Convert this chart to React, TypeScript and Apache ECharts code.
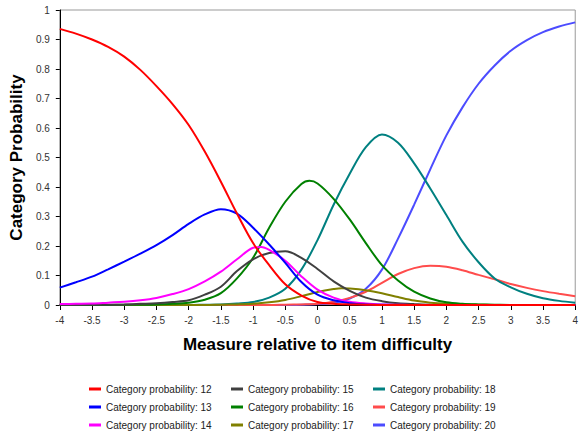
import React, { useEffect, useRef } from "react";
import * as echarts from "echarts";

// x positions (measure relative to item difficulty)
const measures = [
  -4, -3.75, -3.5, -3.25, -3, -2.75, -2.5, -2.25, -2, -1.75, -1.5, -1.25, -1, -0.75, -0.5, -0.25,
  0, 0.25, 0.5, 0.75, 1, 1.25, 1.5, 1.75, 2, 2.25, 2.5, 2.75, 3, 3.25, 3.5, 3.75, 4,
];

const cat12 = [0.936, 0.92, 0.9, 0.875, 0.842, 0.797, 0.742, 0.681, 0.61, 0.52, 0.418, 0.31, 0.21, 0.135, 0.07, 0.032, 0.01, 0.004, 0.002, 0.001, 0, 0, 0, 0, 0, 0, 0, 0, 0, 0, 0, 0, 0];
const cat13 = [0.059, 0.077, 0.096, 0.121, 0.147, 0.174, 0.203, 0.237, 0.275, 0.307, 0.325, 0.31, 0.262, 0.205, 0.143, 0.078, 0.035, 0.016, 0.006, 0.002, 0.001, 0, 0, 0, 0, 0, 0, 0, 0, 0, 0, 0, 0];
const cat14 = [0.003, 0.004, 0.005, 0.008, 0.011, 0.016, 0.024, 0.037, 0.054, 0.08, 0.113, 0.155, 0.194, 0.187, 0.15, 0.097, 0.052, 0.025, 0.011, 0.005, 0.002, 0.001, 0, 0, 0, 0, 0, 0, 0, 0, 0, 0, 0];
const cat15 = [0, 0, 0.001, 0.001, 0.002, 0.004, 0.006, 0.01, 0.016, 0.035, 0.062, 0.115, 0.155, 0.176, 0.182, 0.16, 0.122, 0.08, 0.048, 0.025, 0.013, 0.006, 0.003, 0.001, 0, 0, 0, 0, 0, 0, 0, 0, 0];
const cat16 = [0, 0, 0, 0, 0.001, 0.001, 0.002, 0.004, 0.008, 0.018, 0.04, 0.09, 0.16, 0.262, 0.35, 0.41, 0.412, 0.36, 0.29, 0.21, 0.135, 0.083, 0.045, 0.022, 0.009, 0.004, 0.002, 0.001, 0, 0, 0, 0, 0];
const cat17 = [0, 0, 0, 0, 0, 0, 0, 0, 0, 0, 0.001, 0.002, 0.004, 0.009, 0.017, 0.03, 0.044, 0.054, 0.056, 0.05, 0.04, 0.027, 0.015, 0.008, 0.004, 0.002, 0.001, 0, 0, 0, 0, 0, 0];
const cat18 = [0, 0, 0, 0, 0, 0, 0, 0, 0, 0.001, 0.002, 0.005, 0.01, 0.025, 0.055, 0.12, 0.22, 0.34, 0.445, 0.535, 0.578, 0.55, 0.48, 0.395, 0.305, 0.215, 0.145, 0.09, 0.06, 0.038, 0.023, 0.014, 0.008];
const cat19 = [0, 0, 0, 0, 0, 0, 0, 0, 0, 0, 0, 0, 0, 0, 0.001, 0.002, 0.004, 0.011, 0.024, 0.045, 0.075, 0.105, 0.125, 0.133, 0.13, 0.118, 0.102, 0.087, 0.071, 0.058, 0.047, 0.038, 0.03];
const cat20 = [0, 0, 0, 0, 0, 0, 0, 0, 0, 0, 0, 0, 0, 0, 0, 0.001, 0.003, 0.008, 0.022, 0.055, 0.12, 0.225, 0.34, 0.46, 0.575, 0.67, 0.75, 0.812, 0.862, 0.898, 0.925, 0.944, 0.958];

// peaks that fall between grid measures: [measure, probability]
const peak14 = [-0.875, 0.197];
const peak16 = [-0.125, 0.421];
const peak17 = [0.375, 0.057];

const seriesNames = [
  "Category probability: 12",
  "Category probability: 13",
  "Category probability: 14",
  "Category probability: 15",
  "Category probability: 16",
  "Category probability: 17",
  "Category probability: 18",
  "Category probability: 19",
  "Category probability: 20",
];
const seriesValues = [cat12, cat13, cat14, cat15, cat16, cat17, cat18, cat19, cat20];
const seriesPeaks = [null, null, peak14, null, peak16, peak17, null, null, null];
const seriesColors = ["#ff0000", "#0000ff", "#ff00ff", "#404040", "#008000", "#808000", "#008080", "#ff4c4c", "#4c4cff"];

const FONT = "'Liberation Sans', Arial, sans-serif";

export default function App() {
  const ref = useRef<HTMLDivElement>(null);
  useEffect(() => {
    if (!ref.current) return;
    const chart = echarts.init(ref.current, undefined, { renderer: "svg" });
    const series = seriesNames
      .map((name, i) => {
        const pts: number[][] = measures.map((x, j) => [x, seriesValues[i][j]]);
        const pk = seriesPeaks[i];
        if (pk) pts.push([pk[0], pk[1]]);
        pts.sort((a, b) => a[0] - b[0]);
        return {
          name,
          type: "line",
          smooth: 0.33,
          showSymbol: false,
          symbol: "none",
          data: pts,
          lineStyle: { color: seriesColors[i], width: 2 },
          itemStyle: { color: seriesColors[i] },
        };
      })
      .reverse();
    const legendBase = {
      orient: "vertical",
      icon: "rect",
      itemWidth: 12,
      itemHeight: 3,
      itemGap: 6,
      height: 60,
      selectedMode: false,
      padding: 0,
      textStyle: { fontSize: 10, fontFamily: FONT, color: "#222", lineHeight: 12 },
    };
    chart.setOption({
      animation: false,
      backgroundColor: "#ffffff",
      grid: {
        left: 58,
        right: 0,
        top: 10,
        bottom: 130,
        show: true,
        borderColor: "#999999",
        borderWidth: 1,
      },
      legend: [
        { ...legendBase, left: 89, top: 383, data: seriesNames.slice(0, 3) },
        { ...legendBase, left: 231, top: 383, data: seriesNames.slice(3, 6) },
        { ...legendBase, left: 373, top: 383, data: seriesNames.slice(6, 9) },
      ],
      xAxis: {
        type: "value",
        min: -4,
        max: 4,
        interval: 0.5,
        name: "Measure relative to item difficulty",
        nameLocation: "middle",
        nameGap: 31,
        nameTextStyle: { fontSize: 17, fontWeight: "bold", fontFamily: FONT, color: "#000" },
        axisLine: { onZero: false, lineStyle: { color: "#000", width: 1 } },
        axisTick: { show: true, length: 5, lineStyle: { color: "#000" } },
        axisLabel: { fontSize: 10, color: "#333", fontFamily: FONT, margin: 10 },
        splitLine: { show: false },
      },
      yAxis: {
        type: "value",
        min: 0,
        max: 1,
        interval: 0.1,
        name: "Category Probability",
        nameLocation: "middle",
        nameGap: 30,
        nameTextStyle: { fontSize: 17, fontWeight: "bold", fontFamily: FONT, color: "#000" },
        axisLine: { show: true, onZero: false, lineStyle: { color: "#000", width: 1 } },
        axisTick: { show: true, length: 4, lineStyle: { color: "#000" } },
        axisLabel: { fontSize: 10, color: "#333", fontFamily: FONT, margin: 10 },
        splitLine: { show: false },
      },
      series,
    });
    return () => chart.dispose();
  }, []);
  return (
    <div
      ref={ref}
      style={{ position: "absolute", left: 0, top: 0, width: 581, height: 435 }}
    />
  );
}
